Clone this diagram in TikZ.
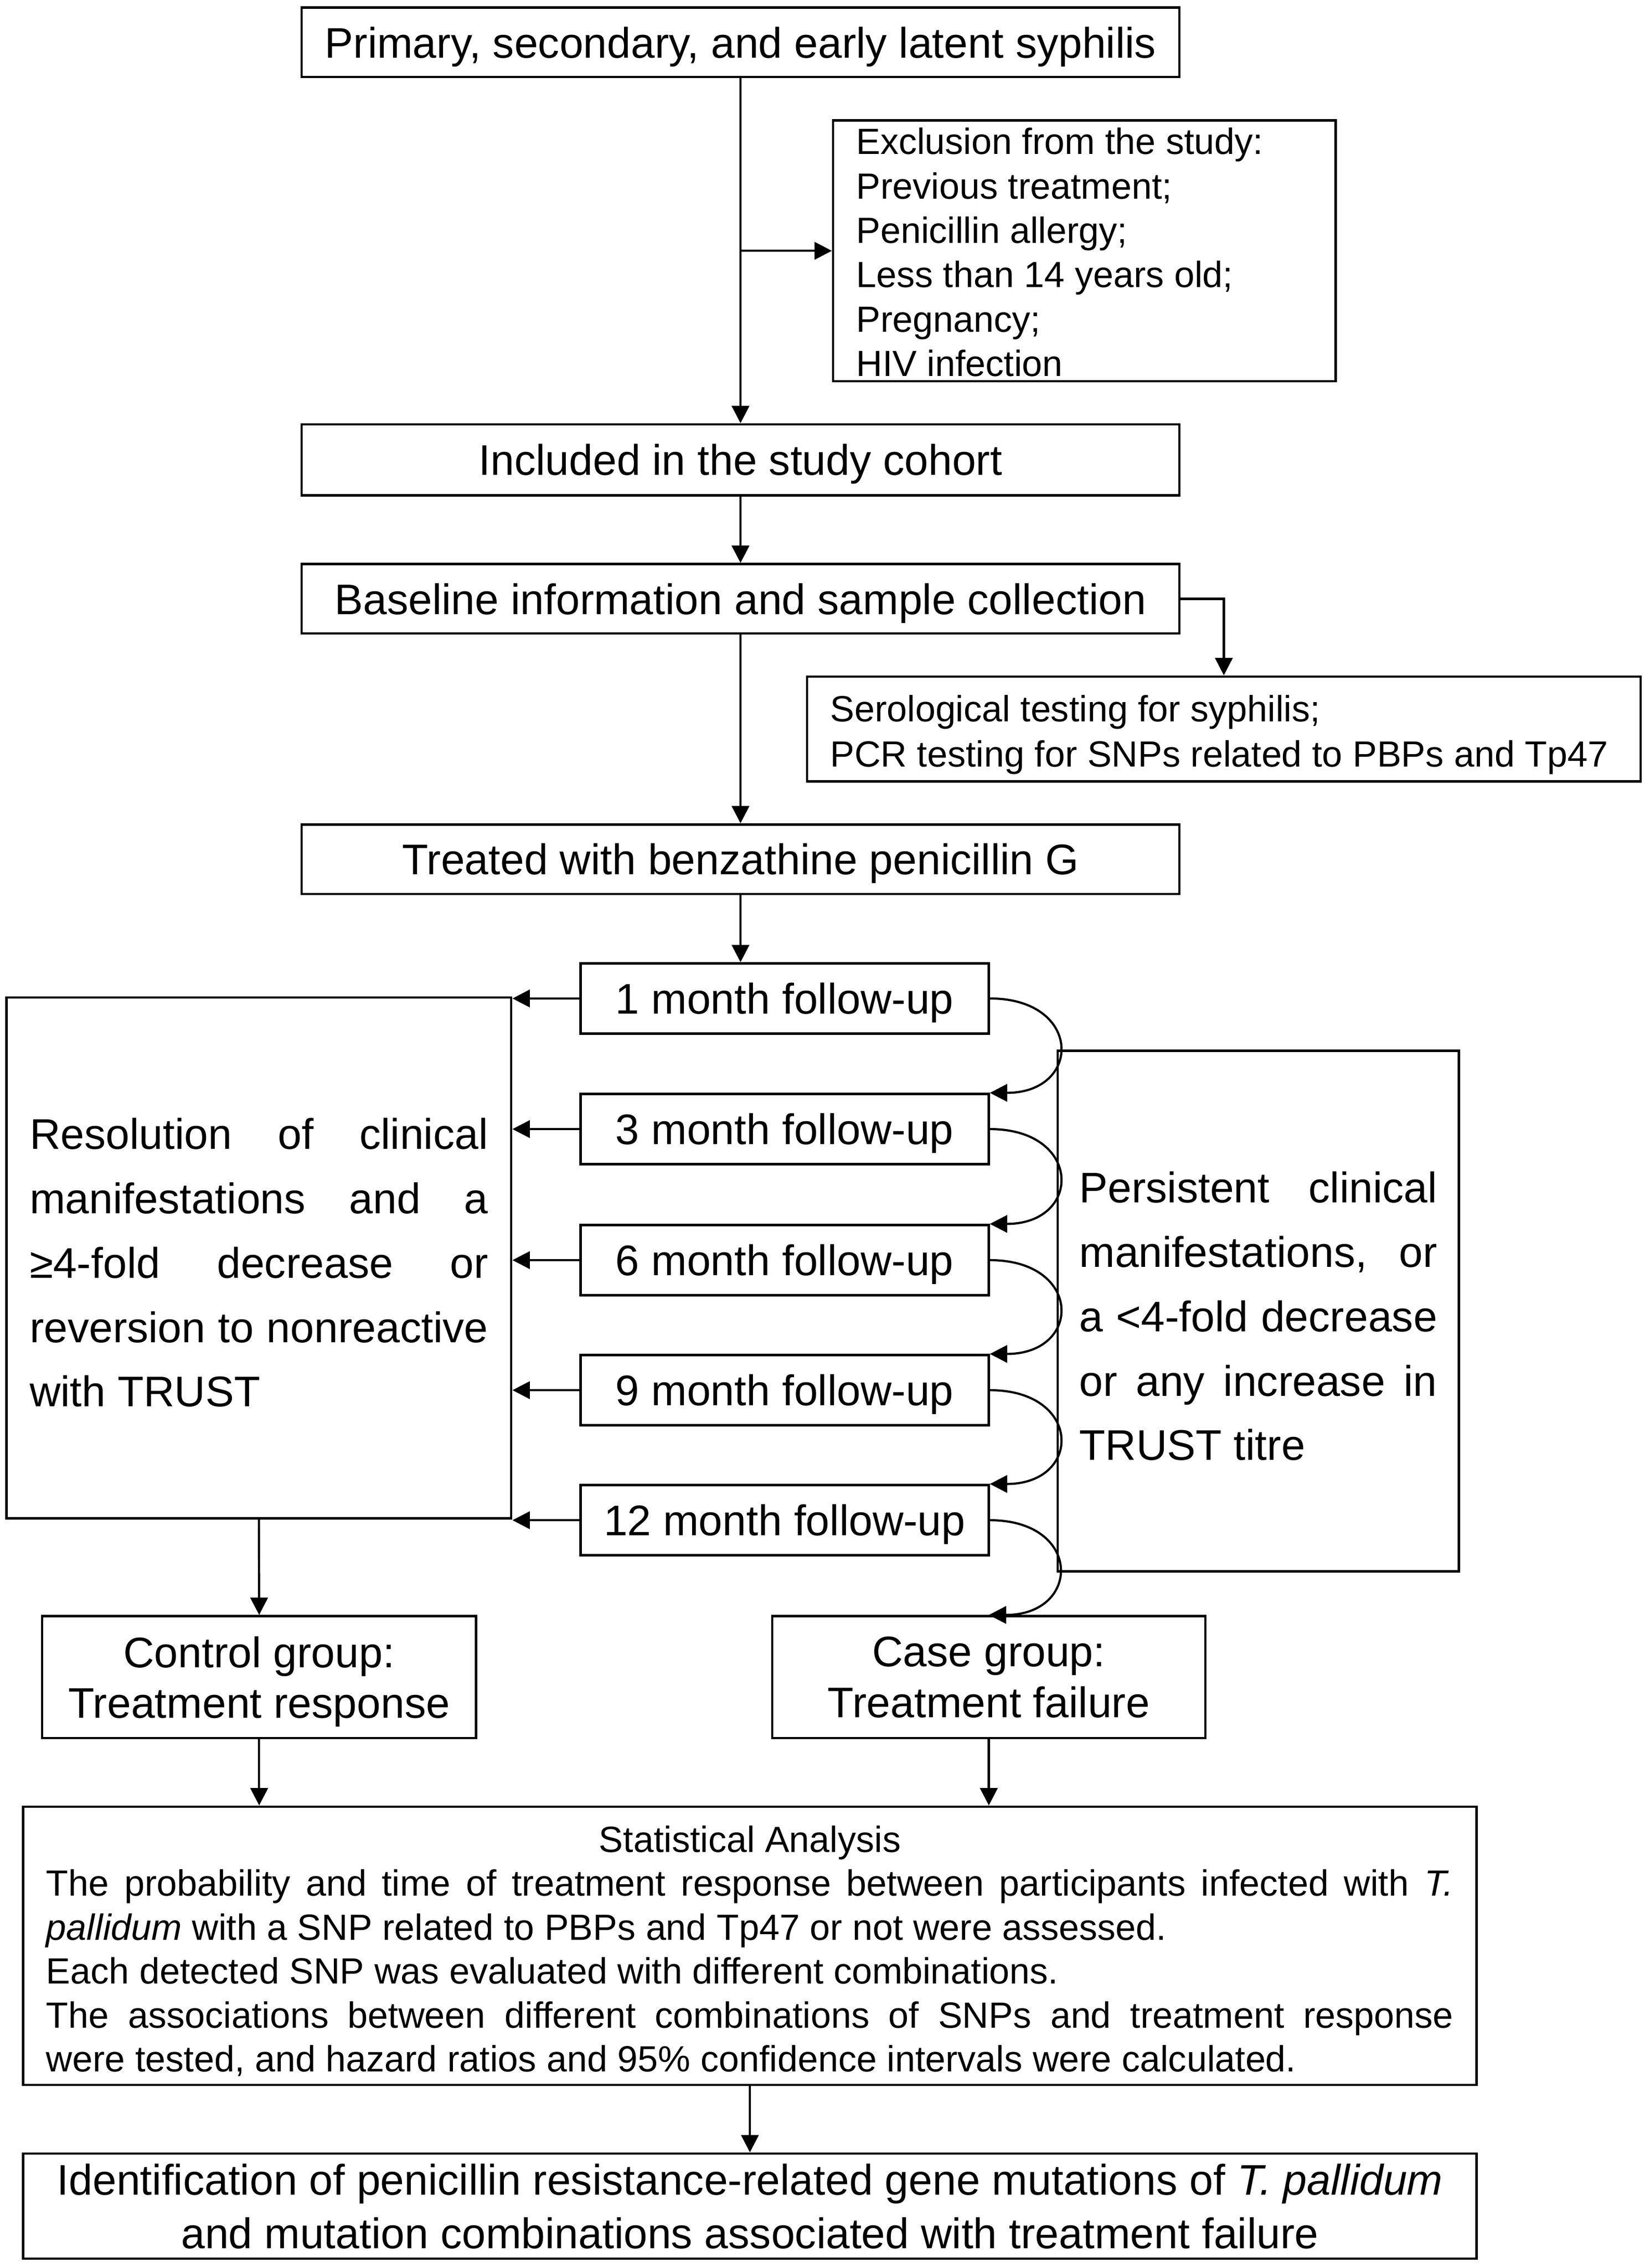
\documentclass[tikz,border=0pt]{standalone}
\usepackage{fontspec}
\setmainfont{Liberation Sans}
\usetikzlibrary{arrows.meta}
\newcommand{\jline}[1]{\makebox[\hsize][s]{\spaceskip=0pt\xspaceskip=0pt\relax #1}}
\newcommand{\centline}[1]{\makebox[\hsize][c]{#1}}
\newcommand{\lowertext}[1]{\par\kern-#1\relax}
\begin{document}
\begin{tikzpicture}[x=0.5pt,y=-0.5pt,
  box/.style={draw, line width=0.8pt, inner sep=0pt, align=center,
    execute at begin node={\spaceskip=0pt\xspaceskip=0pt\relax}},
  big/.style={font=\fontsize{14.8}{17.5}\selectfont},
  mainbox/.style={box,big,text depth=0pt,minimum width=303.5pt,minimum height=24pt},
  fu/.style={box,big,text depth=0pt,minimum width=141.1pt,minimum height=24.25pt},
  grp/.style={box,big,text depth=0pt,minimum height=42.2pt},
  arr/.style={-{Triangle[length=6pt,width=6pt]}, line width=0.75pt},
]
\useasboundingbox (0,0) rectangle (1140.5,1568);

\node[mainbox] (n1) at (512,29.2) {Primary, secondary, and early latent syphilis};
\node[box,align=left,text width=157.75pt,inner xsep=8pt,minimum height=90.2pt,font=\fontsize{12.6}{15.35}\selectfont] (excl) at (749.75,173.4)
  {Exclusion from the study:\\Previous treatment;\\Penicillin allergy;\\Less than 14 years old;\\Pregnancy;\\HIV infection\lowertext{1pt}};
\node[mainbox,minimum height=24.5pt] (incl) at (512,317.9) {Included in the study cohort};
\node[mainbox] (base) at (512,414) {Baseline information and sample collection};
\node[box,align=left,text width=272.2pt,inner xsep=8pt,minimum height=36.3pt,font=\fontsize{12.6}{15.5}\selectfont] (sero) at (846.2,504)
  {Serological testing for syphilis;\\PCR testing for SNPs related to PBPs and Tp47\lowertext{4pt}};
\node[mainbox] (treat) at (512,594) {Treated with benzathine penicillin G};

\node[fu] (f1) at (542.5,690.3) {1 month follow-up};
\node[fu] (f2) at (542.5,780.6) {3 month follow-up};
\node[fu] (f3) at (542.5,871.2) {6 month follow-up};
\node[fu] (f4) at (542.5,961.1) {9 month follow-up};
\node[fu] (f5) at (542.5,1051) {12 month follow-up};

\node[box,align=left,text width=158.5pt,inner xsep=8pt,minimum height=180pt,font=\fontsize{14.8}{22.25}\selectfont] (left) at (179,869.65)
  {\jline{Resolution of clinical}\\\jline{manifestations and a}\\\jline{≥4-fold decrease or}\\\jline{reversion to nonreactive}\\with TRUST\lowertext{3.3pt}};
\node[box,align=left,text width=123.75pt,inner xsep=7.5pt,minimum height=180pt,font=\fontsize{14.8}{22.25}\selectfont] (right) at (870,906.4)
  {\jline{Persistent clinical}\\\jline{manifestations, or}\\\jline{a <4-fold decrease}\\\jline{or any increase in}\\TRUST titre\lowertext{3.6pt}};

\node[grp,minimum width=150pt] (ctrl) at (179.2,1159.5) {Control group:\\Treatment response};
\node[grp,minimum width=149.75pt] (case) at (683.7,1159.5) {Case group:\\Treatment failure};

\node[box,align=left,text width=486.5pt,inner xsep=8pt,minimum height=96.2pt,font=\fontsize{12.6}{15.2}\selectfont] (stats) at (518.5,1345.2)
  {\centline{Statistical Analysis}\\
   \jline{The probability and time of treatment response between participants infected with \textit{T.}}\\
   \textit{pallidum} with a SNP related to PBPs and Tp47 or not were assessed.\\
   Each detected SNP was evaluated with different combinations.\\
   \jline{The associations between different combinations of SNPs and treatment response}\\
   were tested, and hazard ratios and 95\% confidence intervals were calculated.\lowertext{3.7pt}};

\node[box,text depth=0pt,minimum width=502.5pt,minimum height=36.35pt,font=\fontsize{14.8}{18.4}\selectfont] (final) at (518.5,1525.2)
  {Identification of penicillin resistance-related gene mutations of \textit{T. pallidum}\\and mutation combinations associated with treatment failure};

% connectors
\draw[arr] (n1.south) -- (incl.north);
\draw[arr] (n1.south |- excl.west) -- (excl.west);
\draw[arr] (incl.south) -- (base.north);
\draw[arr] (base.east) -| (sero.north);
\draw[arr] (base.south) -- (treat.north);
\draw[arr] (treat.south) -- (treat.south |- f1.north);
\foreach \i in {1,...,5} {\draw[arr] (f\i.west) -- (left.east |- f\i.west);}
\draw[arr] (f1.east) .. controls +(64,0) and +(64,0) .. (f2.north east);
\draw[arr] (f2.east) .. controls +(64,0) and +(64,0) .. (f3.north east);
\draw[arr] (f3.east) .. controls +(64,0) and +(64,0) .. (f4.north east);
\draw[arr] (f4.east) .. controls +(64,0) and +(64,0) .. (f5.north east);
\draw[arr] (f5.east) .. controls +(64,0) and +(64,0) .. (case.north);
\draw[arr] (left.south) -- (ctrl.north);
\draw[arr] (ctrl.south) -- (ctrl.south |- stats.north);
\draw[arr] (case.south) -- (case.south |- stats.north);
\draw[arr] (stats.south) -- (final.north);
\end{tikzpicture}
\end{document}
